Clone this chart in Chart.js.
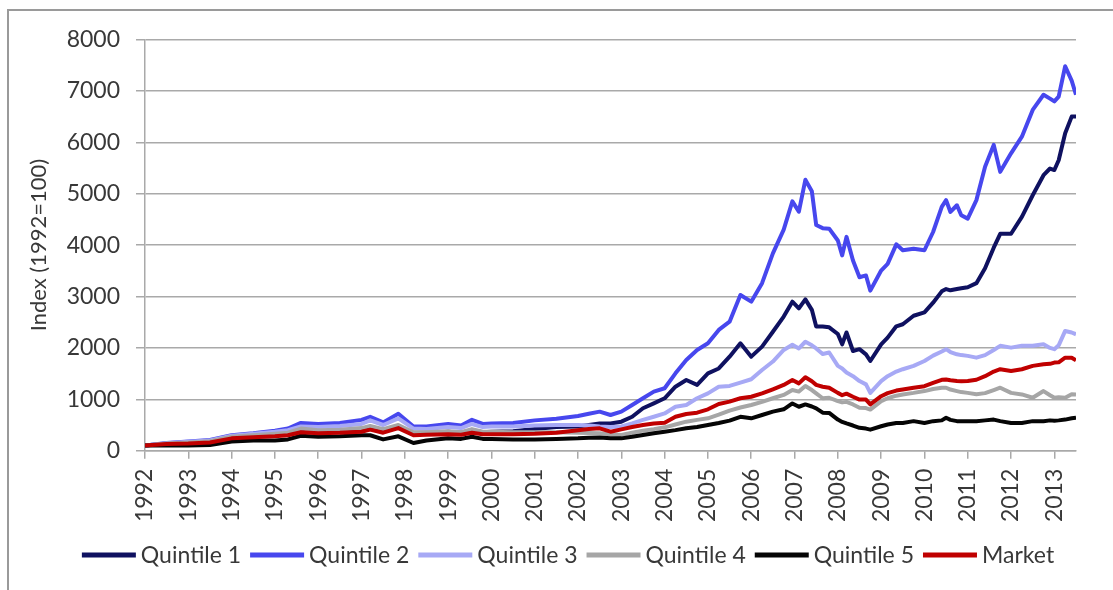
<!DOCTYPE html>
<html>
<head>
<meta charset="utf-8">
<title>Quintile index</title>
<script src="https://cdn.jsdelivr.net/npm/chart.js@4.4.1/dist/chart.umd.min.js"></script>
<style>
  html, body { margin: 0; padding: 0; background: #ffffff; }
  canvas { display: block; }
</style>
</head>
<body>
<canvas id="quintileChart" width="1113" height="590"></canvas>
<script>
// time axis (decimal years) shared by all series
const years = [
  1992, 1992.5, 1993, 1993.5, 1994, 1994.5, 1995, 1995.3, 1995.6, 1996, 1996.5, 1997, 1997.2, 1997.5, 1997.85,
  1998.2, 1998.5, 1999, 1999.3, 1999.55, 1999.8, 2000, 2000.5, 2001, 2001.5,
  2002, 2002.25, 2002.5, 2002.75, 2003, 2003.25, 2003.5, 2003.75, 2004, 2004.25, 2004.5, 2004.75,
  2005, 2005.25, 2005.5, 2005.75, 2006, 2006.25, 2006.5, 2006.75, 2006.95, 2007.1, 2007.25, 2007.4,
  2007.5, 2007.65, 2007.8, 2008, 2008.1, 2008.2, 2008.35, 2008.5, 2008.65, 2008.75, 2009, 2009.15,
  2009.35, 2009.5, 2009.75, 2010, 2010.2, 2010.4, 2010.5, 2010.6, 2010.75, 2010.85, 2011, 2011.2,
  2011.4, 2011.6, 2011.75, 2012, 2012.25, 2012.5, 2012.75, 2012.9, 2013, 2013.1, 2013.25, 2013.4, 2013.5
];

const quintile1 = [
  100, 140, 160, 180, 250, 280, 300, 320, 380, 360, 380, 400, 450, 400, 470,
  330, 340, 370, 350, 400, 360, 370, 380, 420, 460,
  470, 500, 530, 530, 565, 660, 825, 920, 1020, 1245, 1375, 1280,
  1505, 1600, 1830, 2090, 1830, 2025, 2315, 2610, 2900, 2770, 2945, 2740,
  2415, 2415, 2400, 2270, 2070, 2300, 1940, 1975, 1875, 1745, 2070, 2200,
  2420, 2460, 2625, 2690, 2880, 3100, 3145, 3120, 3145, 3160, 3180, 3260,
  3550, 3950, 4220, 4220, 4550, 4970, 5360, 5490, 5460, 5650, 6175, 6500, 6500
];
const quintile2 = [
  100, 150, 180, 210, 300, 340, 390, 430, 540, 520, 540, 600, 660, 550, 720,
  470, 470, 520, 490, 600, 520, 530, 540, 590, 620,
  675, 720, 760, 695, 760, 890, 1020, 1150, 1215, 1505, 1765, 1960,
  2090, 2350, 2510, 3030, 2900, 3260, 3840, 4300, 4850, 4650, 5270, 5050,
  4390, 4330, 4320, 4090, 3800, 4160, 3700, 3375, 3410, 3115, 3505, 3635,
  4015, 3900, 3930, 3900, 4255, 4745, 4875, 4645, 4775, 4580, 4515, 4875,
  5525, 5950, 5425, 5785, 6110, 6630, 6925, 6850, 6795, 6890, 7480, 7200, 6925
];
const quintile3 = [
  100, 145, 175, 200, 290, 330, 370, 400, 470, 460, 480, 520, 590, 500, 630,
  430, 420, 460, 440, 520, 460, 470, 470, 490, 500,
  500, 490, 470, 460, 470, 530, 600, 660, 725, 855, 890, 1020,
  1115, 1245, 1260, 1325, 1390, 1570, 1735, 1960, 2060, 1990, 2120, 2050,
  1990, 1880, 1910, 1650, 1600, 1520, 1450, 1355, 1290, 1125, 1355, 1450,
  1540, 1585, 1650, 1745, 1850, 1930, 1975, 1920, 1875, 1860, 1845, 1810,
  1860, 1960, 2040, 2005, 2040, 2040, 2070, 2000, 1975, 2050, 2330, 2300, 2265
];
const quintile4 = [
  100, 140, 160, 185, 270, 300, 330, 350, 430, 400, 410, 440, 480, 420, 500,
  360, 360, 380, 360, 420, 370, 370, 360, 360, 360,
  350, 345, 340, 320, 305, 350, 390, 420, 455, 510, 565, 600,
  630, 700, 780, 840, 890, 950, 1020, 1085, 1180, 1150, 1260, 1180,
  1115, 1020, 1030, 965, 940, 950, 900, 835, 830, 800, 965, 1020,
  1070, 1095, 1125, 1160, 1200, 1225, 1225, 1190, 1160, 1140, 1125, 1100,
  1120, 1180, 1225, 1125, 1095, 1030, 1160, 1080, 1030, 1040, 1030, 1100, 1095
];
const quintile5 = [
  100, 100, 100, 110, 180, 200, 200, 220, 290, 270, 280, 300, 300, 220, 280,
  150, 200, 240, 230, 270, 230, 230, 220, 220, 230,
  240, 250, 255, 240, 240, 270, 305, 340, 370, 400, 435, 460,
  500, 540, 585, 660, 630, 695, 760, 805, 920, 855, 900, 860,
  825, 740, 735, 605, 560, 530, 490, 445, 430, 410, 475, 510,
  540, 540, 575, 540, 575, 590, 640, 600, 575, 575, 575, 575,
  590, 605, 575, 540, 540, 575, 575, 590, 585, 590, 605, 630, 640
];
const market = [
  100, 130, 140, 160, 240, 260, 280, 300, 360, 340, 350, 370, 410, 350, 440,
  300, 310, 320, 310, 350, 320, 320, 320, 330, 350,
  400, 420, 435, 370, 415, 460, 500, 530, 545, 660, 715, 740,
  805, 910, 955, 1020, 1050, 1115, 1195, 1280, 1375, 1310, 1430, 1350,
  1280, 1245, 1225, 1125, 1080, 1110, 1050, 995, 995, 900, 1060, 1120,
  1170, 1190, 1225, 1255, 1320, 1380, 1385, 1370, 1355, 1350, 1355, 1380,
  1450, 1540, 1585, 1550, 1585, 1650, 1680, 1690, 1715, 1720, 1810, 1810, 1760
];

const seriesNames = ['Quintile 1', 'Quintile 2', 'Quintile 3', 'Quintile 4', 'Quintile 5', 'Market'];
const seriesValues = [quintile1, quintile2, quintile3, quintile4, quintile5, market];
const seriesColors = ['#0f1160', '#4747ee', '#a7a9f5', '#a6a6a6', '#050505', '#c00000'];

const textColor = '#383838';
const gridColor = '#a9a9a9';
const fontFamily = 'Lato, "Open Sans", sans-serif';

// grey frame on the top and left edges
const chartFrame = {
  id: 'chartFrame',
  beforeDraw(chart) {
    const ctx = chart.ctx;
    ctx.save();
    ctx.fillStyle = '#ffffff';
    ctx.fillRect(0, 0, chart.width, chart.height);
    ctx.strokeStyle = '#9a9a9a';
    ctx.lineWidth = 2;
    ctx.beginPath();
    ctx.moveTo(8, chart.height);
    ctx.lineTo(8, 10);
    ctx.lineTo(chart.width, 10);
    ctx.stroke();
    ctx.restore();
  }
};

// legend row with line samples, centred under the plot
const lineLegend = {
  id: 'lineLegend',
  afterDraw(chart) {
    const ctx = chart.ctx;
    const lineLen = 54, textGap = 5, itemGap = 9, y = 555;
    ctx.save();
    ctx.font = '23px ' + fontFamily;
    const items = chart.data.datasets.map(ds => ({
      label: ds.label, color: ds.borderColor, w: ctx.measureText(ds.label).width
    }));
    const total = items.reduce((s, it) => s + lineLen + textGap + it.w, 0) + itemGap * (items.length - 1);
    let x = 568 - total / 2;
    ctx.textBaseline = 'middle';
    ctx.textAlign = 'left';
    items.forEach(it => {
      ctx.strokeStyle = it.color;
      ctx.lineWidth = 5;
      ctx.beginPath();
      ctx.moveTo(x, y);
      ctx.lineTo(x + lineLen, y);
      ctx.stroke();
      x += lineLen + textGap;
      ctx.fillStyle = textColor;
      ctx.fillText(it.label, x, y + 1);
      x += it.w + itemGap;
    });
    ctx.restore();
  }
};

const datasets = seriesNames.map((name, i) => ({
  label: name,
  data: years.map((yr, j) => ({ x: yr, y: seriesValues[i][j] })),
  borderColor: seriesColors[i],
  backgroundColor: seriesColors[i],
  borderWidth: 4,
  pointRadius: 0,
  tension: 0,
  borderJoinStyle: 'round',
  order: seriesNames.length - i   // later series sit on top
}));

const ctx = document.getElementById('quintileChart').getContext('2d');
const chart = new Chart(ctx, {
  type: 'line',
  data: { datasets },
  options: {
    responsive: false,
    animation: false,
    layout: { padding: { left: 12, right: 37, top: 39.5, bottom: 59.3 } },
    plugins: {
      legend: { display: false },
      tooltip: { enabled: false }
    },
    scales: {
      x: {
        type: 'linear',
        min: 1992,
        max: 2013.5,
        afterFit(scale) { scale.height = 80; },
        grid: { drawOnChartArea: false, drawTicks: true, tickLength: 8, color: gridColor, lineWidth: 1.5 },
        border: { display: true, color: gridColor, width: 1.5 },
        ticks: {
          stepSize: 1,
          includeBounds: false,
          autoSkip: false,
          minRotation: 90,
          maxRotation: 90,
          padding: 10,
          color: textColor,
          font: { family: fontFamily, size: 23 },
          callback: value => String(value)
        }
      },
      y: {
        min: 0,
        max: 8000,
        afterFit(scale) { scale.width = 133; },
        grid: { color: gridColor, lineWidth: 1.5, tickLength: 9 },
        border: { display: true, color: gridColor, width: 1.5 },
        ticks: {
          stepSize: 1000,
          padding: 16,
          color: textColor,
          font: { family: fontFamily, size: 23 },
          callback: value => String(value)
        },
        title: {
          display: true,
          text: 'Index (1992=100)',
          color: textColor,
          font: { family: fontFamily, size: 22 },
          padding: { top: 14, bottom: 0 }
        }
      }
    }
  },
  plugins: [chartFrame, lineLegend]
});
</script>
</body>
</html>
